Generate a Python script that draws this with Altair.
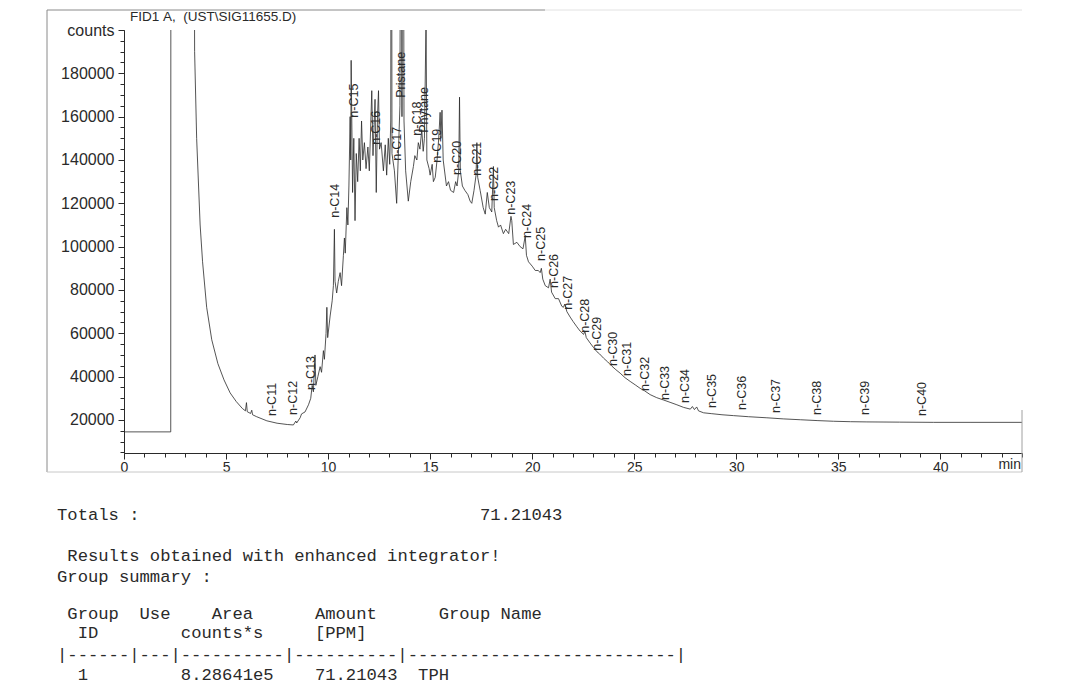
import altair as alt
import pandas as pd

# ---------------- data ----------------
time_min = [0.0, 2.29, 2.30, 3.40, 3.46, 3.56, 3.73, 3.85, 4.05, 4.30, 4.60, 4.90, 5.20, 5.50, 5.80,
            5.95, 6.00, 6.04, 6.20, 6.26, 6.30, 6.50, 7.00, 7.50, 8.00, 8.30, 8.42, 8.46, 8.63, 8.70,
            8.87, 9.04, 9.15, 9.22, 9.28, 9.36, 9.40, 9.50, 9.61, 9.68, 9.77, 9.82, 9.90, 9.94, 9.98,
            10.10, 10.20, 10.26, 10.31, 10.34, 10.42, 10.50, 10.59, 10.66, 10.75, 10.80, 10.84, 10.92,
            10.97, 11.02, 11.08, 11.11, 11.13, 11.20, 11.26, 11.32, 11.38, 11.45, 11.52, 11.58, 11.64,
            11.70, 11.78, 11.86, 11.95, 12.02, 12.14, 12.20, 12.30, 12.36, 12.42, 12.47, 12.52, 12.60,
            12.71, 12.80, 12.87, 12.95, 13.02, 13.07, 13.10, 13.13, 13.25, 13.36, 13.45, 13.52, 13.58,
            13.62, 13.66, 13.72, 13.80, 13.93, 14.05, 14.18, 14.25, 14.35, 14.42, 14.50, 14.59, 14.66,
            14.72, 14.80, 14.84, 14.95, 15.00, 15.10, 15.16, 15.25, 15.34, 15.42, 15.49, 15.53, 15.58,
            15.64, 15.80, 15.90, 16.00, 16.15, 16.25, 16.32, 16.40, 16.44, 16.48, 16.58, 16.70, 16.85,
            16.96, 17.04, 17.15, 17.25, 17.29, 17.33, 17.45, 17.60, 17.70, 17.80, 17.90, 18.02, 18.10,
            18.14, 18.26, 18.35, 18.45, 18.59, 18.70, 18.85, 18.96, 19.00, 19.08, 19.25, 19.41, 19.55,
            19.66, 19.72, 19.82, 20.00, 20.15, 20.30, 20.39, 20.45, 20.52, 20.64, 20.80, 20.88, 20.95,
            21.13, 21.29, 21.45, 21.53, 21.60, 21.70, 21.86, 22.00, 22.19, 22.35, 22.52, 22.58, 22.65,
            22.84, 23.00, 23.17, 23.30, 23.50, 23.70, 23.91, 24.10, 24.31, 24.55, 24.80, 25.05, 25.29,
            25.50, 25.78, 26.10, 26.44, 26.80, 27.09, 27.42, 27.75, 27.85, 27.95, 28.06, 28.15, 28.40,
            28.80, 29.30, 29.87, 30.60, 31.50, 32.30, 33.14, 34.00, 34.77, 35.60, 36.40, 38.00, 39.67,
            41.50, 44.00]
counts = [14500, 14500, 400000, 400000, 190000, 150000, 110000, 93000, 72000, 57000, 46000, 38500,
          32500, 28500, 25300, 24200, 28000, 23800, 23000, 24500, 22400, 21500, 19600, 18500, 17900,
          17700, 19500, 18600, 21000, 22800, 23700, 27000, 30000, 36000, 33000, 50000, 36000, 40000,
          44600, 42000, 52000, 48000, 60000, 72000, 58000, 68000, 75000, 82000, 108000, 84000, 78600,
          84000, 88000, 82000, 96000, 104000, 97000, 118000, 110000, 128000, 160000, 140000, 186000,
          125000, 150000, 112000, 143000, 130000, 150000, 135000, 158000, 140000, 148000, 136000,
          146000, 135000, 172000, 142000, 168000, 125000, 160000, 172000, 145000, 148000, 135000,
          147000, 133000, 150000, 138000, 158000, 400000, 143000, 135000, 120000, 145000, 165000,
          400000, 160000, 400000, 158000, 135000, 121000, 130000, 137000, 142000, 140000, 148000,
          145000, 154000, 144000, 150000, 205000, 140000, 136000, 133000, 138000, 130000, 132000,
          140000, 150000, 162000, 150000, 163000, 140000, 128000, 130000, 126000, 125000, 130000,
          128000, 135000, 169000, 135000, 128000, 126000, 124000, 121000, 120000, 126000, 133000,
          148000, 132000, 126000, 118000, 115000, 125000, 118000, 116000, 137000, 118000, 112000,
          109000, 110000, 106000, 108000, 106000, 114000, 112000, 101000, 102000, 100000, 99000,
          105000, 96000, 93000, 91000, 89000, 89000, 88000, 90000, 85000, 82000, 81000, 85000, 79000,
          76000, 76000, 72500, 72000, 73500, 70000, 67500, 65500, 63000, 61000, 59500, 61000, 58000,
          55500, 53500, 51500, 50500, 48500, 46800, 44800, 43200, 41600, 39500, 37800, 36200, 34600,
          33500, 31700, 30300, 29200, 28000, 27000, 25800, 25000, 26200, 24800, 26000, 24200, 23300,
          22900, 22400, 22000, 21500, 21000, 20500, 20100, 19700, 19400, 19200, 19100, 19000, 18900,
          18900, 18900]

peak_names = ["n-C11", "n-C12", "n-C13", "n-C14", "n-C15", "n-C16", "n-C17", "Pristane", "n-C18",
              "Phytane", "n-C19", "n-C20", "n-C21", "n-C22", "n-C23", "n-C24", "n-C25", "n-C26",
              "n-C27", "n-C28", "n-C29", "n-C30", "n-C31", "n-C32", "n-C33", "n-C34", "n-C35",
              "n-C36", "n-C37", "n-C38", "n-C39", "n-C40"]
peak_times = [7.25, 8.26, 9.17, 10.34, 11.27, 12.37, 13.36, 13.58, 14.36, 14.71, 15.34, 16.32, 17.28,
              18.14, 18.94, 19.73, 20.44, 21.08, 21.76, 22.60, 23.19, 23.97, 24.66, 25.54, 26.52,
              27.50, 28.82, 30.27, 31.96, 33.97, 36.32, 39.09]
peak_label_base = [20900, 21400, 32900, 112400, 158600, 146100, 138700, 167800, 150300, 151600,
                   137800, 132200, 131800, 120200, 113800, 103100, 92500, 80000, 69900, 59300,
                   51000, 44000, 39400, 32500, 28300, 26900, 24600, 23700, 22300, 21400, 21400, 20900]

x_major = [0, 5, 10, 15, 20, 25, 30, 35, 40]
x_minor = list(range(0, 45))
y_major = [20000, 40000, 60000, 80000, 100000, 120000, 140000, 160000, 180000, 200000]
y_minor = list(range(5000, 200001, 5000))

chart_title = "FID1 A,  (UST\\SIG11655.D)"
report_lines = [
    "Totals :                                 71.21043",
    " Results obtained with enhanced integrator!",
    "Group summary :",
    " Group  Use    Area      Amount      Group Name",
    "  ID        counts*s     [PPM]",
    "|------|---|----------|----------|--------------------------|",
    "  1         8.28641e5    71.21043  TPH",
]

# ---------------- layout ----------------
W, H = 898, 423
SANS = "Liberation Sans"
MONO = "Liberation Mono"
INK = "#2a2a2a"
CHAR_W = 10.35

trace_df = pd.DataFrame({"t": time_min, "c": counts})
peaks_df = pd.DataFrame({"name": peak_names, "t": peak_times, "c": peak_label_base})

xs = alt.Scale(domain=[0, 44], nice=False, zero=False)
ys = alt.Scale(domain=[4750, 200000], nice=False, zero=False)

trace = alt.Chart(trace_df).mark_line(clip=True, color=INK, strokeWidth=0.8).encode(
    x=alt.X("t:Q", scale=xs, axis=alt.Axis(
        orient="bottom", values=x_major, title=None, grid=False, tickSize=6,
        labelFont=SANS, labelFontSize=14, labelColor=INK, labelPadding=1,
        domainColor=INK, tickColor=INK, labelFlush=False)),
    y=alt.Y("c:Q", scale=ys, axis=alt.Axis(
        orient="left", values=y_major, title=None, grid=False, tickSize=6, format="d",
        labelExpr="datum.value == 200000 ? 'counts' : datum.label",
        labelFont=SANS, labelFontSize=16, labelColor=INK, labelPadding=4,
        domainColor=INK, tickColor=INK)),
    order="t:Q",
)

minor = alt.Chart(trace_df).mark_line(opacity=0).encode(
    x=alt.X("t:Q", scale=xs, axis=alt.Axis(
        orient="bottom", values=x_minor, labels=False, title=None, grid=False,
        tickSize=4, domain=False, tickColor=INK)),
    y=alt.Y("c:Q", scale=ys, axis=alt.Axis(
        orient="left", values=y_minor, labels=False, title=None, grid=False,
        tickSize=4, domain=False, tickColor=INK)),
)

labels = alt.Chart(peaks_df).mark_text(
    angle=270, align="left", baseline="middle", font=SANS, fontSize=12.5, color=INK, dx=2
).encode(
    x=alt.X("t:Q", scale=xs, axis=None),
    y=alt.Y("c:Q", scale=ys, axis=None),
    text="name:N",
)

def text_layer(s, x, y, font, size, align="left", char_w=None):
    lead = len(s) - len(s.lstrip(" "))
    if char_w:
        x = x + lead * char_w
    s = s.strip(" ").replace(" ", "\u00a0")
    return alt.Chart(pd.DataFrame({"s": [s]})).mark_text(
        align=align, baseline="middle", font=font, fontSize=size, color=INK
    ).encode(x=alt.value(x), y=alt.value(y), text="s:N")

title_layer = text_layer(chart_title, 6, -13, SANS, 13.5)
min_layer = text_layer("min", W - 1, 435, SANS, 14, align="right")

report_y = [485, 526, 547, 584, 603, 625, 645]
report_layers = [text_layer(s, -67, y, MONO, 17.2, char_w=CHAR_W)
                 for s, y in zip(report_lines, report_y)]

# scanned page frame
def rule(x, x2, y, y2, color="#8a8a8a"):
    return alt.Chart(pd.DataFrame({"k": [0]})).mark_rule(color=color, strokeWidth=1).encode(
        x=alt.value(x), x2=alt.value(x2), y=alt.value(y), y2=alt.value(y2))

frame = [
    rule(-77, 421, -20, -20),
    rule(421, 898, -20, -20, "#e2e2e2"),
    rule(-77, -77, -20, 442),
    rule(-77, 898, 442, 442, "#c8c8c8"),
    rule(898, 898, 380, 442, "#a0a0a0"),
]

chart = alt.layer(trace, minor, labels, title_layer, min_layer, *report_layers, *frame).resolve_axis(
    x="independent", y="independent"
).properties(
    width=W, height=H,
    padding={"left": 124, "top": 30, "right": 1073 - 124 - W, "bottom": 687 - 30 - H},
    autosize=alt.AutoSizeParams(type="none"),
    background="white",
).configure_view(stroke=None)

chart.save("out.html", embed_options={"renderer": "svg", "actions": False})
